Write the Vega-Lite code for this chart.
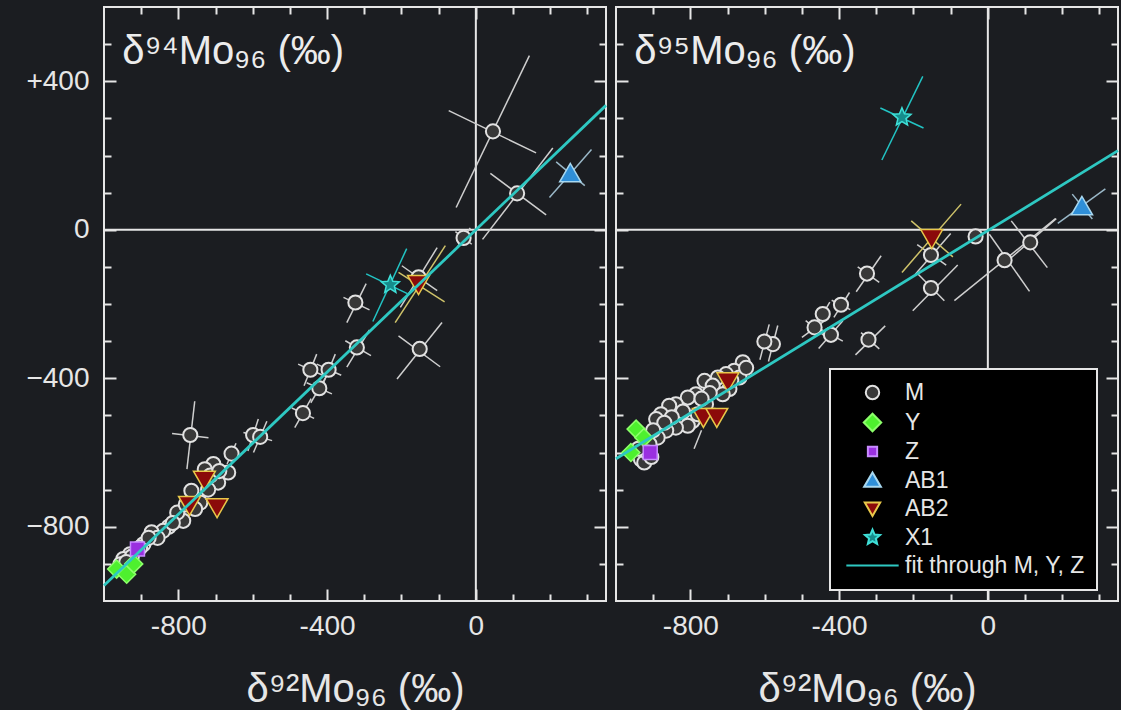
{
  "$schema": "https://vega.github.io/schema/vega-lite/v6.json",
  "background": "#1b1d21",
  "autosize": {"type": "pad"},
  "padding": {"left": 24, "top": 5, "right": 0, "bottom": 0},
  "datasets": {
    "ptsL": [
      {"g": "M", "x": 46, "y": 265}, {"g": "M", "x": 111, "y": 98}, {"g": "M", "x": -33, "y": -22},
      {"g": "M", "x": -154, "y": -128}, {"g": "M", "x": -324, "y": -196}, {"g": "M", "x": -320, "y": -317},
      {"g": "M", "x": -151, "y": -321}, {"g": "M", "x": -445, "y": -377}, {"g": "M", "x": -396, "y": -377},
      {"g": "M", "x": -421, "y": -427}, {"g": "M", "x": -465, "y": -494}, {"g": "M", "x": -768, "y": -553},
      {"g": "M", "x": -599, "y": -553}, {"g": "M", "x": -580, "y": -558}, {"g": "M", "x": -657, "y": -603},
      {"g": "M", "x": -706, "y": -631}, {"g": "M", "x": -729, "y": -645}, {"g": "M", "x": -666, "y": -654},
      {"g": "M", "x": -693, "y": -681}, {"g": "M", "x": -714, "y": -662}, {"g": "M", "x": -765, "y": -703},
      {"g": "M", "x": -741, "y": -735}, {"g": "M", "x": -755, "y": -752}, {"g": "M", "x": -787, "y": -784},
      {"g": "M", "x": -803, "y": -762}, {"g": "M", "x": -826, "y": -800}, {"g": "M", "x": -841, "y": -811},
      {"g": "M", "x": -872, "y": -815}, {"g": "M", "x": -856, "y": -830}, {"g": "M", "x": -894, "y": -847},
      {"g": "M", "x": -903, "y": -856}, {"g": "M", "x": -930, "y": -874}, {"g": "M", "x": -948, "y": -887},
      {"g": "M", "x": -956, "y": -901}, {"g": "M", "x": -690, "y": -650}, {"g": "M", "x": -720, "y": -700},
      {"g": "M", "x": -780, "y": -740}, {"g": "M", "x": -815, "y": -790}, {"g": "M", "x": -880, "y": -830},
      {"g": "M", "x": -925, "y": -880}, {"g": "M", "x": -940, "y": -895},
      {"g": "Y", "x": -966, "y": -914}, {"g": "Y", "x": -939, "y": -928}, {"g": "Y", "x": -920, "y": -900},
      {"g": "Z", "x": -910, "y": -860},
      {"g": "AB1", "x": 254, "y": 154},
      {"g": "AB2", "x": -154, "y": -149}, {"g": "AB2", "x": -730, "y": -676}, {"g": "AB2", "x": -770, "y": -744}, {"g": "AB2", "x": -696, "y": -750},
      {"g": "X1", "x": -230, "y": -148}
    ],
    "ptsR": [
      {"g": "M", "x": -33, "y": -18}, {"g": "M", "x": 114, "y": -34}, {"g": "M", "x": 45, "y": -82},
      {"g": "M", "x": -153, "y": -68}, {"g": "M", "x": -325, "y": -118}, {"g": "M", "x": -153, "y": -157},
      {"g": "M", "x": -395, "y": -202}, {"g": "M", "x": -444, "y": -227}, {"g": "M", "x": -466, "y": -263},
      {"g": "M", "x": -422, "y": -283}, {"g": "M", "x": -321, "y": -296}, {"g": "M", "x": -578, "y": -308},
      {"g": "M", "x": -601, "y": -301}, {"g": "M", "x": -659, "y": -357}, {"g": "M", "x": -682, "y": -380},
      {"g": "M", "x": -704, "y": -389}, {"g": "M", "x": -726, "y": -398}, {"g": "M", "x": -762, "y": -407},
      {"g": "M", "x": -740, "y": -420}, {"g": "M", "x": -785, "y": -443}, {"g": "M", "x": -807, "y": -452},
      {"g": "M", "x": -839, "y": -470}, {"g": "M", "x": -857, "y": -474}, {"g": "M", "x": -879, "y": -497},
      {"g": "M", "x": -892, "y": -510}, {"g": "M", "x": -794, "y": -515}, {"g": "M", "x": -807, "y": -528},
      {"g": "M", "x": -839, "y": -533}, {"g": "M", "x": -865, "y": -541}, {"g": "M", "x": -888, "y": -560},
      {"g": "M", "x": -910, "y": -577}, {"g": "M", "x": -933, "y": -618}, {"g": "M", "x": -924, "y": -627},
      {"g": "M", "x": -668, "y": -398}, {"g": "M", "x": -695, "y": -429}, {"g": "M", "x": -713, "y": -443},
      {"g": "M", "x": -758, "y": -470}, {"g": "M", "x": -780, "y": -497}, {"g": "M", "x": -650, "y": -372},
      {"g": "M", "x": -690, "y": -405}, {"g": "M", "x": -748, "y": -440}, {"g": "M", "x": -770, "y": -455},
      {"g": "M", "x": -820, "y": -490}, {"g": "M", "x": -850, "y": -505}, {"g": "M", "x": -870, "y": -520},
      {"g": "M", "x": -900, "y": -540}, {"g": "M", "x": -915, "y": -600}, {"g": "M", "x": -940, "y": -590},
      {"g": "M", "x": -905, "y": -612},
      {"g": "Y", "x": -946, "y": -537}, {"g": "Y", "x": -925, "y": -560}, {"g": "Y", "x": -960, "y": -600},
      {"g": "Z", "x": -908, "y": -600},
      {"g": "AB1", "x": 253, "y": 65},
      {"g": "AB2", "x": -151, "y": -25}, {"g": "AB2", "x": -699, "y": -411}, {"g": "AB2", "x": -765, "y": -507}, {"g": "AB2", "x": -729, "y": -507},
      {"g": "X1", "x": -231, "y": 303}
    ],
    "errL": [
      {"g": "M", "x": 144, "y": 469, "x2": -53, "y2": 60}, {"g": "M", "x": -73, "y": 321, "x2": 162, "y2": 207},
      {"g": "M", "x": 207, "y": 220, "x2": 18, "y2": -26}, {"g": "M", "x": 39, "y": 152, "x2": 189, "y2": 40},
      {"g": "AB1", "x": 311, "y": 216, "x2": 198, "y2": 87}, {"g": "AB1", "x": 216, "y": 183, "x2": 293, "y2": 119},
      {"g": "X1", "x": -186, "y": -51, "x2": -277, "y2": -247}, {"g": "X1", "x": -295, "y": -119, "x2": -184, "y2": -172},
      {"g": "M", "x": -104, "y": -48, "x2": -203, "y2": -209}, {"g": "M", "x": -199, "y": -97, "x2": -104, "y2": -164},
      {"g": "AB2", "x": -82, "y": -43, "x2": -217, "y2": -250}, {"g": "AB2", "x": -208, "y": -115, "x2": -84, "y2": -194},
      {"g": "M", "x": -295, "y": -145, "x2": -347, "y2": -250}, {"g": "M", "x": -356, "y": -182, "x2": -286, "y2": -216},
      {"g": "M", "x": -286, "y": -270, "x2": -347, "y2": -370}, {"g": "M", "x": -351, "y": -299, "x2": -282, "y2": -339},
      {"g": "M", "x": -91, "y": -250, "x2": -212, "y2": -402}, {"g": "M", "x": -208, "y": -286, "x2": -96, "y2": -369},
      {"g": "M", "x": -428, "y": -335, "x2": -462, "y2": -420}, {"g": "M", "x": -478, "y": -362, "x2": -412, "y2": -392},
      {"g": "M", "x": -378, "y": -335, "x2": -413, "y2": -420}, {"g": "M", "x": -428, "y": -362, "x2": -362, "y2": -392},
      {"g": "M", "x": -398, "y": -388, "x2": -444, "y2": -466}, {"g": "M", "x": -455, "y": -412, "x2": -387, "y2": -442},
      {"g": "M", "x": -443, "y": -455, "x2": -487, "y2": -533}, {"g": "M", "x": -495, "y": -480, "x2": -435, "y2": -508},
      {"g": "M", "x": -756, "y": -462, "x2": -777, "y2": -645}, {"g": "M", "x": -817, "y": -549, "x2": -719, "y2": -560},
      {"g": "M", "x": -585, "y": -510, "x2": -613, "y2": -596}, {"g": "M", "x": -625, "y": -546, "x2": -573, "y2": -560},
      {"g": "M", "x": -562, "y": -516, "x2": -598, "y2": -600}, {"g": "M", "x": -606, "y": -551, "x2": -548, "y2": -568},
      {"g": "M", "x": -15, "y": 5, "x2": -51, "y2": -49}, {"g": "M", "x": -55, "y": -5, "x2": -11, "y2": -39},
      {"g": "M", "x": -645, "y": -575, "x2": -669, "y2": -631}
    ],
    "errR": [
      {"g": "X1", "x": -175, "y": 413, "x2": -285, "y2": 188}, {"g": "X1", "x": -289, "y": 328, "x2": -173, "y2": 274},
      {"g": "M", "x": -100, "y": -10, "x2": -195, "y2": -120}, {"g": "M", "x": -190, "y": -40, "x2": -112, "y2": -95},
      {"g": "AB2", "x": -72, "y": 69, "x2": -231, "y2": -115}, {"g": "AB2", "x": -206, "y": 24, "x2": -94, "y2": -73},
      {"g": "M", "x": 63, "y": 24, "x2": 160, "y2": -102}, {"g": "M", "x": 184, "y": 30, "x2": 40, "y2": -95},
      {"g": "M", "x": -90, "y": -191, "x2": 182, "y2": 30}, {"g": "M", "x": 112, "y": -166, "x2": 4, "y2": -12},
      {"g": "AB1", "x": 316, "y": 110, "x2": 188, "y2": 17}, {"g": "AB1", "x": 227, "y": 96, "x2": 281, "y2": 29},
      {"g": "M", "x": -287, "y": -70, "x2": -354, "y2": -167}, {"g": "M", "x": -350, "y": -100, "x2": -292, "y2": -142},
      {"g": "M", "x": -81, "y": -95, "x2": -202, "y2": -218}, {"g": "M", "x": -188, "y": -119, "x2": -117, "y2": -191},
      {"g": "M", "x": -372, "y": -169, "x2": -414, "y2": -236}, {"g": "M", "x": -420, "y": -190, "x2": -370, "y2": -215},
      {"g": "M", "x": -432, "y": -240, "x2": -500, "y2": -290}, {"g": "M", "x": -490, "y": -245, "x2": -440, "y2": -285},
      {"g": "M", "x": -390, "y": -245, "x2": -455, "y2": -320}, {"g": "M", "x": -455, "y": -265, "x2": -390, "y2": -300},
      {"g": "M", "x": -276, "y": -259, "x2": -356, "y2": -337}, {"g": "M", "x": -341, "y": -277, "x2": -292, "y2": -321},
      {"g": "M", "x": -565, "y": -258, "x2": -590, "y2": -355}, {"g": "M", "x": -588, "y": -255, "x2": -613, "y2": -350},
      {"g": "M", "x": -425, "y": -195, "x2": -462, "y2": -258}, {"g": "M", "x": -770, "y": -540, "x2": -790, "y2": -590}
    ],
    "fitL": [{"x": -1000, "y": -958, "x2": 350, "y2": 335}],
    "fitR": [{"x": -1000, "y": -617, "x2": 350, "y2": 213}],
    "leg": [
      {"g": "M"}, {"g": "Y"}, {"g": "Z"}, {"g": "AB1"}, {"g": "AB2"}, {"g": "X1"}, {"g": "fit through M, Y, Z"}
    ]
  },
  "spacing": 4,
  "hconcat": [
    {
      "width": 502,
      "height": 594,
      "resolve": {"axis": {"x": "independent", "y": "independent"}},
      "layer": [
        {
          "data": {"values": [{}]},
          "mark": {"type": "rule", "stroke": "#e6e6e6", "strokeWidth": 2},
          "encoding": {"x": {"datum": 0, "type": "quantitative", "scale": {"domain": [-1000, 350], "nice": false, "zero": false}, "axis": null}}
        },
        {
          "data": {"values": [{}]},
          "mark": {"type": "rule", "stroke": "#e6e6e6", "strokeWidth": 2},
          "encoding": {"y": {"datum": 0, "type": "quantitative", "scale": {"domain": [-1000, 600], "nice": false, "zero": false}, "axis": null}}
        },
        {
          "data": {"name": "errL"},
          "mark": {"type": "rule", "strokeWidth": 1.5},
          "encoding": {
            "x": {"field": "x", "type": "quantitative", "scale": {"domain": [-1000, 350], "nice": false, "zero": false},
              "axis": {"orient": "bottom", "values": [-900, -800, -700, -600, -500, -400, -300, -200, -100, 0, 100, 200, 300],
                "tickSize": {"condition": {"test": "datum.value % 400 === 0", "value": -12}, "value": -7},
                "labelExpr": "datum.value % 400 === 0 ? (datum.value < 0 ? '-' + abs(datum.value) : '' + datum.value) : ''",
                "labelFontSize": 28, "labelPadding": 23, "title": "δ⁹²Mo₉₆ (‰)", "titleFontSize": 40, "titleFontWeight": "normal", "titlePadding": 24}},
            "y": {"field": "y", "type": "quantitative", "scale": {"domain": [-1000, 600], "nice": false, "zero": false},
              "axis": {"orient": "left", "values": [-900, -800, -700, -600, -500, -400, -300, -200, -100, 0, 100, 200, 300, 400, 500],
                "tickSize": {"condition": {"test": "datum.value % 400 === 0", "value": -12}, "value": -7},
                "labelExpr": "datum.value % 400 === 0 ? (datum.value > 0 ? '+' + datum.value : (datum.value < 0 ? '−' + abs(datum.value) : '0')) : ''",
                "labelFontSize": 28, "labelPadding": 27, "title": null}},
            "x2": {"field": "x2"},
            "y2": {"field": "y2"},
            "stroke": {"condition": [{"test": "datum.g === 'AB2'", "value": "#cfc36a"}, {"test": "datum.g === 'X1'", "value": "#22c4c4"}, {"test": "datum.g === 'AB1'", "value": "#9ab8c8"}], "value": "#cfcfcf"}
          }
        },
        {
          "data": {"name": "ptsL"},
          "transform": [{"filter": "datum.g === 'M'"}],
          "mark": {"type": "point", "shape": "circle", "filled": true, "fill": "#383838", "stroke": "#e2e2e2", "strokeWidth": 2, "size": 200, "opacity": 1},
          "encoding": {"x": {"field": "x", "type": "quantitative", "axis": null}, "y": {"field": "y", "type": "quantitative", "axis": null}}
        },
        {
          "data": {"name": "ptsL"},
          "transform": [{"filter": "datum.g === 'Y'"}],
          "mark": {"type": "point", "shape": "diamond", "filled": true, "fill": "#4ef02e", "stroke": "#8cff6a", "strokeWidth": 1.5, "size": 324, "opacity": 1},
          "encoding": {"x": {"field": "x", "type": "quantitative", "axis": null}, "y": {"field": "y", "type": "quantitative", "axis": null}}
        },
        {
          "data": {"name": "ptsL"},
          "transform": [{"filter": "datum.g === 'Z'"}],
          "mark": {"type": "point", "shape": "square", "filled": true, "fill": "#9a30e0", "stroke": "#c88cff", "strokeWidth": 1.5, "size": 196, "opacity": 1},
          "encoding": {"x": {"field": "x", "type": "quantitative", "axis": null}, "y": {"field": "y", "type": "quantitative", "axis": null}}
        },
        {
          "data": {"name": "ptsL"},
          "transform": [{"filter": "datum.g === 'AB1'"}],
          "mark": {"type": "point", "shape": "triangle-up", "filled": true, "fill": "#2f8fd8", "stroke": "#a8d8f0", "strokeWidth": 1.5, "size": 450, "opacity": 1},
          "encoding": {"x": {"field": "x", "type": "quantitative", "axis": null}, "y": {"field": "y", "type": "quantitative", "axis": null}}
        },
        {
          "data": {"name": "ptsL"},
          "transform": [{"filter": "datum.g === 'AB2'"}],
          "mark": {"type": "point", "shape": "triangle-down", "filled": true, "fill": "#8b0a0a", "stroke": "#e8c84a", "strokeWidth": 1.5, "size": 480, "opacity": 1},
          "encoding": {"x": {"field": "x", "type": "quantitative", "axis": null}, "y": {"field": "y", "type": "quantitative", "axis": null}}
        },
        {
          "data": {"name": "ptsL"},
          "transform": [{"filter": "datum.g === 'X1'"}],
          "mark": {"type": "point", "shape": "M0,-1L0.2645,-0.364L0.951,-0.309L0.428,0.139L0.588,0.809L0,0.45L-0.588,0.809L-0.428,0.139L-0.951,-0.309L-0.2645,-0.364Z", "filled": true, "fill": "#168c8c", "stroke": "#3fe0d8", "strokeWidth": 1.5, "size": 360, "opacity": 1},
          "encoding": {"x": {"field": "x", "type": "quantitative", "axis": null}, "y": {"field": "y", "type": "quantitative", "axis": null}}
        },
        {
          "data": {"name": "fitL"},
          "mark": {"type": "rule", "stroke": "#2ec8c2", "strokeWidth": 2.8},
          "encoding": {
            "x": {"field": "x", "type": "quantitative",
              "axis": {"orient": "top", "values": [-900, -800, -700, -600, -500, -400, -300, -200, -100, 0, 100, 200, 300],
                "tickSize": {"condition": {"test": "datum.value % 400 === 0", "value": -12}, "value": -7}, "labels": false, "title": null}},
            "y": {"field": "y", "type": "quantitative",
              "axis": {"orient": "right", "values": [-900, -800, -700, -600, -500, -400, -300, -200, -100, 0, 100, 200, 300, 400, 500],
                "tickSize": {"condition": {"test": "datum.value % 400 === 0", "value": -12}, "value": -7}, "labels": false, "title": null}},
            "x2": {"field": "x2"},
            "y2": {"field": "y2"}
          }
        },
        {
          "data": {"values": [{}]},
          "mark": {"type": "text", "align": "left", "baseline": "alphabetic", "font": "Liberation Sans", "fontSize": 40, "color": "#ececec"},
          "encoding": {
            "x": {"datum": -951, "type": "quantitative", "axis": null},
            "y": {"datum": 447, "type": "quantitative", "axis": null},
            "text": {"value": "δ⁹⁴Mo₉₆ (‰)"}
          }
        }
      ]
    },
    {
      "width": 502,
      "height": 594,
      "resolve": {"axis": {"x": "independent", "y": "independent"}},
      "layer": [
        {
          "data": {"values": [{}]},
          "mark": {"type": "rule", "stroke": "#e6e6e6", "strokeWidth": 2},
          "encoding": {"x": {"datum": 0, "type": "quantitative", "scale": {"domain": [-1000, 350], "nice": false, "zero": false}, "axis": null}}
        },
        {
          "data": {"values": [{}]},
          "mark": {"type": "rule", "stroke": "#e6e6e6", "strokeWidth": 2},
          "encoding": {"y": {"datum": 0, "type": "quantitative", "scale": {"domain": [-1000, 600], "nice": false, "zero": false}, "axis": null}}
        },
        {
          "data": {"name": "errR"},
          "mark": {"type": "rule", "strokeWidth": 1.5},
          "encoding": {
            "x": {"field": "x", "type": "quantitative", "scale": {"domain": [-1000, 350], "nice": false, "zero": false},
              "axis": {"orient": "bottom", "values": [-900, -800, -700, -600, -500, -400, -300, -200, -100, 0, 100, 200, 300],
                "tickSize": {"condition": {"test": "datum.value % 400 === 0", "value": -12}, "value": -7},
                "labelExpr": "datum.value % 400 === 0 ? (datum.value < 0 ? '-' + abs(datum.value) : '' + datum.value) : ''",
                "labelFontSize": 28, "labelPadding": 23, "title": "δ⁹²Mo₉₆ (‰)", "titleFontSize": 40, "titleFontWeight": "normal", "titlePadding": 24}},
            "y": {"field": "y", "type": "quantitative", "scale": {"domain": [-1000, 600], "nice": false, "zero": false},
              "axis": {"orient": "left", "values": [-900, -800, -700, -600, -500, -400, -300, -200, -100, 0, 100, 200, 300, 400, 500],
                "tickSize": {"condition": {"test": "datum.value % 400 === 0", "value": -12}, "value": -7},
                "labels": false, "title": null}},
            "x2": {"field": "x2"},
            "y2": {"field": "y2"},
            "stroke": {"condition": [{"test": "datum.g === 'AB2'", "value": "#cfc36a"}, {"test": "datum.g === 'X1'", "value": "#22c4c4"}, {"test": "datum.g === 'AB1'", "value": "#9ab8c8"}], "value": "#cfcfcf"}
          }
        },
        {
          "data": {"name": "ptsR"},
          "transform": [{"filter": "datum.g === 'M'"}],
          "mark": {"type": "point", "shape": "circle", "filled": true, "fill": "#383838", "stroke": "#e2e2e2", "strokeWidth": 2, "size": 200, "opacity": 1},
          "encoding": {"x": {"field": "x", "type": "quantitative", "axis": null}, "y": {"field": "y", "type": "quantitative", "axis": null}}
        },
        {
          "data": {"name": "ptsR"},
          "transform": [{"filter": "datum.g === 'Y'"}],
          "mark": {"type": "point", "shape": "diamond", "filled": true, "fill": "#4ef02e", "stroke": "#8cff6a", "strokeWidth": 1.5, "size": 324, "opacity": 1},
          "encoding": {"x": {"field": "x", "type": "quantitative", "axis": null}, "y": {"field": "y", "type": "quantitative", "axis": null}}
        },
        {
          "data": {"name": "ptsR"},
          "transform": [{"filter": "datum.g === 'Z'"}],
          "mark": {"type": "point", "shape": "square", "filled": true, "fill": "#9a30e0", "stroke": "#c88cff", "strokeWidth": 1.5, "size": 196, "opacity": 1},
          "encoding": {"x": {"field": "x", "type": "quantitative", "axis": null}, "y": {"field": "y", "type": "quantitative", "axis": null}}
        },
        {
          "data": {"name": "ptsR"},
          "transform": [{"filter": "datum.g === 'AB1'"}],
          "mark": {"type": "point", "shape": "triangle-up", "filled": true, "fill": "#2f8fd8", "stroke": "#a8d8f0", "strokeWidth": 1.5, "size": 450, "opacity": 1},
          "encoding": {"x": {"field": "x", "type": "quantitative", "axis": null}, "y": {"field": "y", "type": "quantitative", "axis": null}}
        },
        {
          "data": {"name": "ptsR"},
          "transform": [{"filter": "datum.g === 'AB2'"}],
          "mark": {"type": "point", "shape": "triangle-down", "filled": true, "fill": "#8b0a0a", "stroke": "#e8c84a", "strokeWidth": 1.5, "size": 480, "opacity": 1},
          "encoding": {"x": {"field": "x", "type": "quantitative", "axis": null}, "y": {"field": "y", "type": "quantitative", "axis": null}}
        },
        {
          "data": {"name": "ptsR"},
          "transform": [{"filter": "datum.g === 'X1'"}],
          "mark": {"type": "point", "shape": "M0,-1L0.2645,-0.364L0.951,-0.309L0.428,0.139L0.588,0.809L0,0.45L-0.588,0.809L-0.428,0.139L-0.951,-0.309L-0.2645,-0.364Z", "filled": true, "fill": "#168c8c", "stroke": "#3fe0d8", "strokeWidth": 1.5, "size": 360, "opacity": 1},
          "encoding": {"x": {"field": "x", "type": "quantitative", "axis": null}, "y": {"field": "y", "type": "quantitative", "axis": null}}
        },
        {
          "data": {"name": "fitR"},
          "mark": {"type": "rule", "stroke": "#2ec8c2", "strokeWidth": 2.8},
          "encoding": {
            "x": {"field": "x", "type": "quantitative",
              "axis": {"orient": "top", "values": [-900, -800, -700, -600, -500, -400, -300, -200, -100, 0, 100, 200, 300],
                "tickSize": {"condition": {"test": "datum.value % 400 === 0", "value": -12}, "value": -7}, "labels": false, "title": null}},
            "y": {"field": "y", "type": "quantitative",
              "axis": {"orient": "right", "values": [-900, -800, -700, -600, -500, -400, -300, -200, -100, 0, 100, 200, 300, 400, 500],
                "tickSize": {"condition": {"test": "datum.value % 400 === 0", "value": -12}, "value": -7}, "labels": false, "title": null}},
            "x2": {"field": "x2"},
            "y2": {"field": "y2"}
          }
        },
        {
          "data": {"values": [{}]},
          "mark": {"type": "text", "align": "left", "baseline": "alphabetic", "font": "Liberation Sans", "fontSize": 40, "color": "#ececec"},
          "encoding": {
            "x": {"datum": -951, "type": "quantitative", "axis": null},
            "y": {"datum": 447, "type": "quantitative", "axis": null},
            "text": {"value": "δ⁹⁵Mo₉₆ (‰)"}
          }
        },
        {
          "data": {"name": "leg"},
          "mark": {"type": "point", "filled": true, "opacity": 1, "strokeWidth": 2, "clip": true},
          "encoding": {
            "x": {"datum": 99999, "type": "quantitative", "axis": null},
            "y": {"datum": 99999, "type": "quantitative", "axis": null},
            "shape": {"field": "g", "type": "nominal",
              "scale": {"domain": ["M", "Y", "Z", "AB1", "AB2", "X1", "fit through M, Y, Z"],
                "range": ["circle", "M-1.3,0L0,-1.3L1.3,0L0,1.3Z", "M-0.69,-0.69H0.69V0.69H-0.69Z", "M0,-1.2L1.25,0.95L-1.25,0.95Z", "M0,1.1L1.15,-0.9L-1.15,-0.9Z",
                  "M0,-1.18L0.312,-0.43L1.122,-0.365L0.505,0.164L0.694,0.955L0,0.531L-0.694,0.955L-0.505,0.164L-1.122,-0.365L-0.312,-0.43Z", "M-3.9,0H3.9"]},
              "legend": {"orient": "none", "legendX": 726, "legendY": 362, "title": null}},
            "fill": {"field": "g", "type": "nominal",
              "scale": {"domain": ["M", "Y", "Z", "AB1", "AB2", "X1", "fit through M, Y, Z"],
                "range": ["#383838", "#4ef02e", "#9a30e0", "#2f8fd8", "#8b0a0a", "#168c8c", "transparent"]},
              "legend": {"orient": "none", "legendX": 726, "legendY": 362, "title": null}},
            "stroke": {"field": "g", "type": "nominal",
              "scale": {"domain": ["M", "Y", "Z", "AB1", "AB2", "X1", "fit through M, Y, Z"],
                "range": ["#e2e2e2", "#8cff6a", "#c88cff", "#a8d8f0", "#e8c84a", "#3fe0d8", "#2ec8c2"]},
              "legend": {"orient": "none", "legendX": 726, "legendY": 362, "title": null}}
          }
        }
      ]
    }
  ],
  "config": {
    "font": "Liberation Sans",
    "view": {"stroke": "#e6e6e6", "strokeWidth": 2},
    "axis": {"domain": false, "grid": false, "tickColor": "#e6e6e6", "tickWidth": 2, "labelColor": "#e6e6e6", "titleColor": "#e6e6e6",
      "labelFont": "Liberation Sans", "titleFont": "Liberation Sans", "labelOverlap": false, "labelFlush": false},
    "legend": {"fillColor": "#000000", "strokeColor": "#e6e6e6", "strokeWidth": 2, "padding": 12, "labelFont": "Liberation Sans",
      "labelFontSize": 23, "labelColor": "#e6e6e6", "symbolSize": 180, "symbolStrokeWidth": 2, "symbolOffset": 19, "labelOffset": 21,
      "rowPadding": 4, "labelLimit": 400, "symbolOpacity": 1}
  }
}
